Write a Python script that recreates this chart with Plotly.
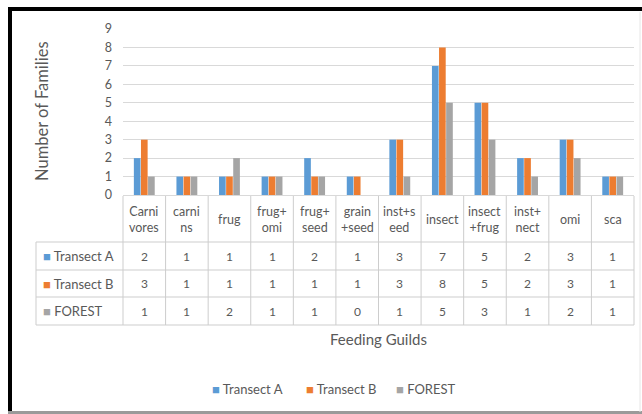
import plotly.graph_objects as go

# Feeding guild categories (header labels of the data table)
guilds = ["Carni<br>vores", "carni<br>ns", "frug", "frug+<br>omi", "frug+<br>seed",
          "grain<br>+seed", "inst+s<br>eed", "insect", "insect<br>+frug", "inst+<br>nect",
          "omi", "sca"]

# Number of families per guild
transect_a = [2, 1, 1, 1, 2, 1, 3, 7, 5, 2, 3, 1]
transect_b = [3, 1, 1, 1, 1, 1, 3, 8, 5, 2, 3, 1]
forest = [1, 1, 2, 1, 1, 0, 1, 5, 3, 1, 2, 1]

series_names = ["Transect A", "Transect B", "FOREST"]
series_values = [transect_a, transect_b, forest]
colors = ["#5B9BD5", "#ED7D31", "#A5A5A5"]

y_ticks = list(range(0, 10))

W, H = 642, 414
L, R, T, B = 123, 8, 29, 219
PW, PH = W - L - R, H - T - B
FONT = "Lato"
TXT = "#595959"
GRID = "#D9D9D9"
TABLE_LINE = "#CDCDCD"


def xp(px):
    return (px - L) / PW


def yp(py):
    return (H - B - py) / PH


n = len(guilds)
xs = list(range(n))

fig = go.Figure()
for name, vals, col in zip(series_names, series_values, colors):
    fig.add_trace(go.Bar(x=xs, y=vals, name=name, marker=dict(color=col, line=dict(width=0))))

shapes = []
annotations = []


def boundary_paper(k):
    # left edge of category k as a fraction of the x axis domain
    return k / n


def note(x, y, text, size, xref="paper", xanchor="center", **kw):
    annotations.append(dict(x=x, xref=xref, y=y, yref="paper", text=text, showarrow=False,
                            xanchor=xanchor, yanchor="middle",
                            font=dict(family=FONT, size=size, color=TXT), **kw))


# data table grid
row_lines = [242, 270, 297, 325]
for py in row_lines:
    shapes.append(dict(type="line", xref="paper", yref="paper", x0=xp(36), x1=1,
                       y0=yp(py), y1=yp(py), line=dict(color=TABLE_LINE, width=1)))
for k in range(n + 1):
    xb = boundary_paper(k)
    shapes.append(dict(type="line", xref="paper", yref="paper", x0=xb, x1=xb,
                       y0=yp(196), y1=yp(325), line=dict(color=TABLE_LINE, width=1)))
shapes.append(dict(type="line", xref="paper", yref="paper", x0=xp(36), x1=xp(36),
                   y0=yp(242), y1=yp(325), line=dict(color=TABLE_LINE, width=1)))

# header labels
for i, g in enumerate(guilds):
    note(i, yp(219), g, 12.5, xref="x", align="center")

# row labels and cell values
row_centers = [256, 283.5, 311]
for name, vals, col, py in zip(series_names, series_values, colors, row_centers):
    note(xp(41), yp(py), f"<span style='color:{col}'>■</span> {name}", 13, xanchor="left")
    for i, v in enumerate(vals):
        note(i, yp(py), str(v), 12, xref="x")

# axis titles
note(xp(378), yp(339), "Feeding Guilds", 15)
note(xp(42), yp(111), "Number of Families", 16.5, textangle=-90)

# legend
legend_left = [210, 304, 394]
for name, col, lx in zip(series_names, colors, legend_left):
    note(xp(lx), yp(389), f"<span style='color:{col}'>■</span> {name}", 13, xanchor="left")

# outer frame
shapes += [
    dict(type="line", xref="paper", yref="paper", x0=xp(8), x1=xp(642), y0=yp(9), y1=yp(9),
         line=dict(color="black", width=4)),
    dict(type="line", xref="paper", yref="paper", x0=xp(10), x1=xp(10), y0=yp(7), y1=yp(414),
         line=dict(color="black", width=4)),
    dict(type="line", xref="paper", yref="paper", x0=xp(8), x1=xp(642), y0=yp(412.5), y1=yp(412.5),
         line=dict(color="#9A9A9A", width=3)),
    dict(type="line", xref="paper", yref="paper", x0=xp(640), x1=xp(640), y0=yp(12), y1=yp(412),
         line=dict(color="#E6E6E6", width=1)),
]

fig.update_layout(
    width=W, height=H,
    margin=dict(l=L, r=R, t=T, b=B, autoexpand=False),
    paper_bgcolor="white", plot_bgcolor="white",
    barmode="group", bargap=0.5, bargroupgap=0.06,
    font=dict(family=FONT, color=TXT),
    xaxis=dict(range=[-0.5, n - 0.5], showticklabels=False, showgrid=False, zeroline=False,
               showline=True, linecolor=GRID, linewidth=1, fixedrange=True),
    yaxis=dict(range=[0, 9], tickvals=y_ticks, showgrid=True, gridcolor=GRID, gridwidth=1,
               zeroline=False, showline=False, ticklabelstandoff=10,
               tickfont=dict(family=FONT, size=12.5, color=TXT)),
    showlegend=False,
    shapes=shapes,
    annotations=annotations,
)

fig.write_html("out.html")
